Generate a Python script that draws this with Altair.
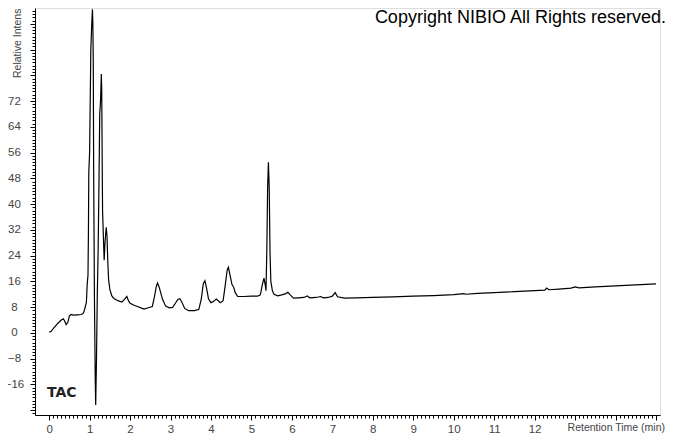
import altair as alt
import pandas as pd

# Retention time (min) and relative intensity
time = [0.00, 0.05, 0.10, 0.15, 0.20, 0.25, 0.30, 0.35, 0.38, 0.42, 0.46, 0.50, 0.54, 0.60, 0.70,
        0.80, 0.85, 0.88, 0.92, 0.94, 0.96, 0.97, 0.98, 1.00, 1.03, 1.05, 1.07, 1.08, 1.09, 1.10,
        1.12, 1.14, 1.15, 1.17, 1.19, 1.21, 1.23, 1.25, 1.27, 1.29, 1.30, 1.31, 1.32, 1.34, 1.36,
        1.38, 1.41, 1.43, 1.45, 1.47, 1.50, 1.55, 1.60, 1.70, 1.80, 1.86, 1.92, 1.96, 2.00, 2.10,
        2.20, 2.30, 2.35, 2.45, 2.55, 2.60, 2.65, 2.68, 2.72, 2.80, 2.88, 2.97, 3.05, 3.12, 3.18,
        3.23, 3.28, 3.35, 3.45, 3.60, 3.70, 3.76, 3.81, 3.85, 3.89, 3.94, 4.00, 4.07, 4.13, 4.18,
        4.23, 4.30, 4.35, 4.40, 4.43, 4.47, 4.52, 4.56, 4.60, 4.66, 4.80, 5.00, 5.15, 5.22, 5.27,
        5.31, 5.34, 5.36, 5.38, 5.40, 5.42, 5.44, 5.46, 5.48, 5.52, 5.56, 5.65, 5.75, 5.85, 5.90,
        5.96, 6.04, 6.15, 6.30, 6.38, 6.44, 6.60, 6.71, 6.78, 6.90, 7.00, 7.07, 7.13, 7.30, 7.60,
        8.00, 8.50, 9.00, 9.50, 10.00, 10.25, 10.30, 10.60, 11.00, 11.50, 12.00, 12.25, 12.30,
        12.35, 12.60, 12.90, 13.00, 13.10, 13.50, 14.00, 14.50, 15.00]
intensity = [0.2, 0.5, 1.3, 2.0, 2.8, 3.4, 4.0, 4.4, 3.8, 2.6, 3.2, 5.2, 5.7, 5.5, 5.6,
             5.7, 6.2, 7.5, 9.5, 15.0, 18.0, 30.0, 50.0, 56.0, 88.0, 95.0, 100.5, 96.0, 85.0, 50.0,
             10.0, -15.0, -22.4, -8.0, 12.0, 25.0, 45.0, 68.0, 72.0, 80.4, 75.0, 55.0, 38.0, 30.0, 22.6,
             28.0, 32.8, 30.0, 22.0, 16.5, 13.5, 11.5, 10.7, 10.0, 9.6, 10.4, 11.3, 10.0, 9.2, 8.6,
             8.1, 7.6, 7.4, 7.8, 8.2, 11.0, 14.5, 15.5, 14.2, 10.5, 8.3, 7.8, 7.9, 9.2, 10.4,
             10.6, 9.6, 7.6, 6.9, 6.9, 7.3, 10.5, 15.3, 16.2, 14.0, 10.5, 9.4, 9.8, 10.5, 10.0,
             9.4, 10.0, 14.5, 19.5, 20.4, 18.0, 15.0, 14.2, 12.5, 11.3, 11.3, 11.4, 11.4, 11.8, 15.0,
             17.0, 15.0, 13.1, 25.0, 45.0, 53.0, 45.0, 25.0, 16.0, 13.0, 12.0, 11.5, 11.8, 12.2, 12.6,
             11.8, 10.8, 10.9, 11.0, 11.5, 10.9, 11.0, 11.3, 10.9, 11.0, 11.4, 12.5, 11.2, 10.8, 10.9,
             11.0, 11.2, 11.4, 11.6, 11.9, 12.2, 12.0, 12.3, 12.5, 12.8, 13.1, 13.3, 13.9,
             13.4, 13.6, 13.9, 14.3, 14.0, 14.3, 14.6, 14.9, 15.2]

x_ticks = [round(i * 0.1, 1) for i in range(0, 151)]
y_ticks = list(range(-25, 101))

df = pd.DataFrame({"t": time, "v": intensity})
one = pd.DataFrame({"a": [0]})

x_axis = alt.Axis(
    values=x_ticks, title=None, grid=False,
    labelExpr="abs(datum.value - round(datum.value)) < 0.001 && datum.value <= 12.5 ? format(datum.value, 'd') : ''",
    tickSize={"condition": {"test": "abs(datum.value - round(datum.value)) < 0.001", "value": 5}, "value": 3},
    labelOverlap=False, labelFlush=False, labelPadding=3,
    labelFont="Liberation Sans", labelFontSize=11.5, labelColor="#444",
    domainColor="black", tickColor="black", tickWidth=1, domainWidth=1,
)
y_axis = alt.Axis(
    values=y_ticks, title=None, grid=False,
    labelExpr="datum.value % 8 == 0 && datum.value >= -16 && datum.value <= 72 ? format(datum.value, 'd') : ''",
    tickSize={"condition": {"test": "datum.value % 8 == 0", "value": 5}, "value": 3},
    labelOverlap=False, labelFlush=False, labelPadding=16, labelAlign="center",
    labelFont="Liberation Sans", labelFontSize=11.5, labelColor="#444",
    domainColor="black", tickColor="black", tickWidth=1, domainWidth=1,
)

line = alt.Chart(df).mark_line(color="black", strokeWidth=1.2).encode(
    x=alt.X("t:Q", scale=alt.Scale(domain=[-0.35, 15.1], nice=False, zero=False), axis=x_axis),
    y=alt.Y("v:Q", scale=alt.Scale(domain=[-25.5, 100.9], nice=False, zero=False), axis=y_axis),
)

copyright_txt = alt.Chart(one).mark_text(
    text="Copyright NIBIO All Rights reserved.", font="Liberation Sans", fontSize=18,
    align="right", baseline="middle", color="black",
).encode(x=alt.value(631), y=alt.value(10))

tac = alt.Chart(one).mark_text(
    text="TAC", font="DejaVu Sans", fontSize=14, fontWeight="bold",
    align="left", baseline="middle", color="#222",
).encode(x=alt.value(12), y=alt.value(385))

xtitle = alt.Chart(one).mark_text(
    text="Retention Time (min)", font="Liberation Sans", fontSize=10.5,
    align="right", baseline="middle", color="#444",
).encode(x=alt.value(630), y=alt.value(420))

ytitle = alt.Chart(one).mark_text(
    text="Relative Intensity", font="Liberation Sans", fontSize=10.5, angle=270,
    align="left", baseline="middle", color="#444",
).encode(x=alt.value(-17), y=alt.value(70))

chart = alt.layer(line, copyright_txt, tac, xtitle, ytitle).properties(
    width=625, height=407,
    autosize=alt.AutoSizeParams(type="none"),
    padding={"left": 27, "top": 0, "right": 6, "bottom": 19},
).configure_view(stroke=None).configure(background="white")

chart.save("out.html", embed_options={"renderer": "svg", "actions": False})
